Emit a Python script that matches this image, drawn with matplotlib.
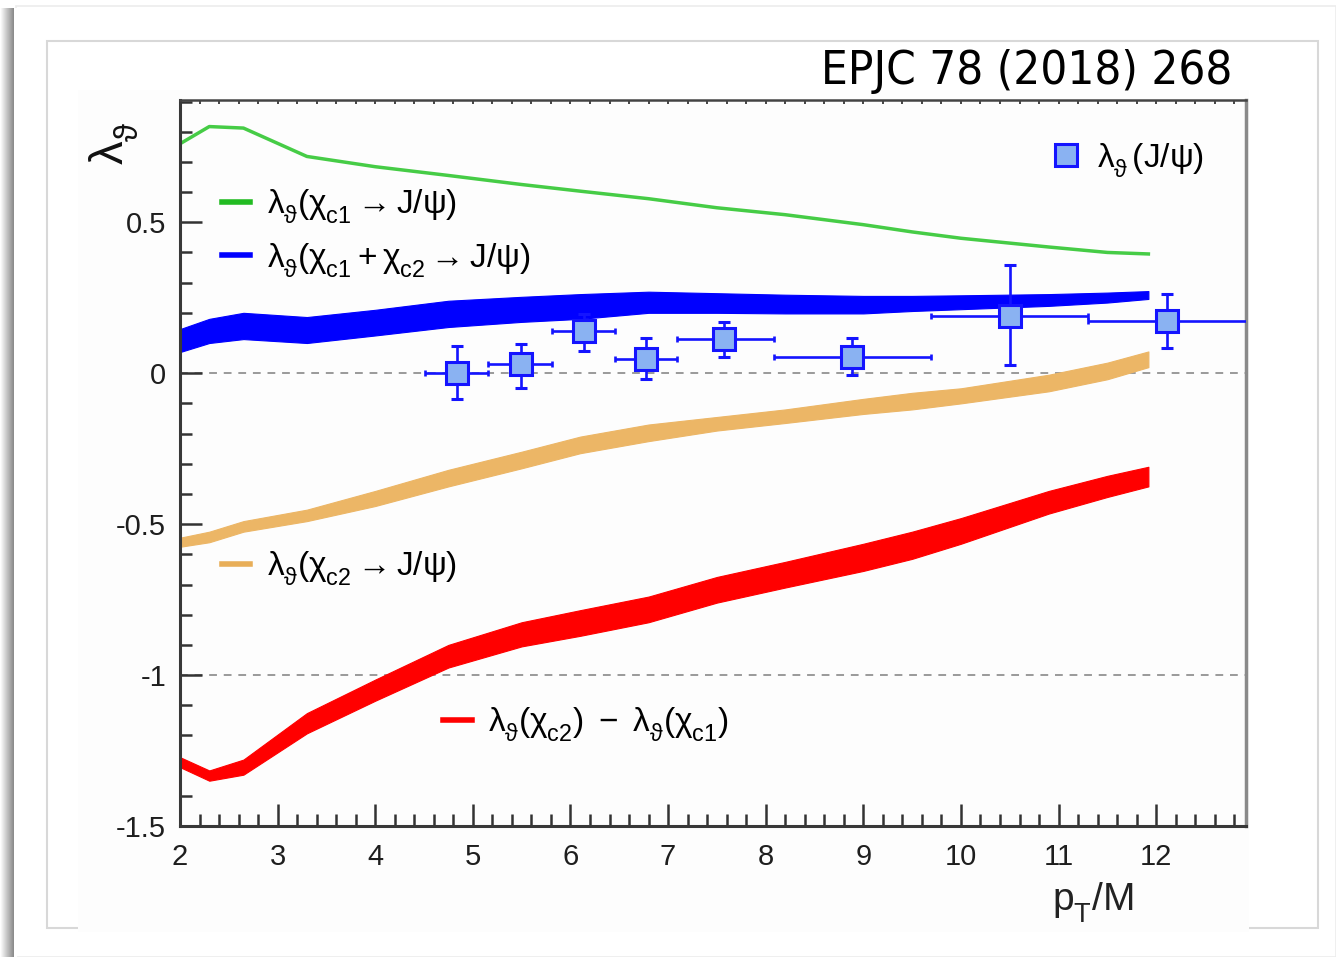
import numpy as np
import matplotlib
matplotlib.use("Agg")
import matplotlib.pyplot as plt
import matplotlib._mathtext as mathtext_impl
from matplotlib.patches import Rectangle
from matplotlib.lines import Line2D
from matplotlib.ticker import MultipleLocator, FuncFormatter

plt.rcParams['font.family'] = ['Liberation Sans', 'DejaVu Sans']
plt.rcParams['mathtext.fontset'] = 'custom'
plt.rcParams['mathtext.rm'] = 'Liberation Sans'
plt.rcParams['mathtext.it'] = 'Liberation Sans'
plt.rcParams['mathtext.bf'] = 'Liberation Sans:bold'
plt.rcParams['mathtext.sf'] = 'Liberation Sans'
plt.rcParams['mathtext.fallback'] = 'stixsans'
plt.rcParams['axes.unicode_minus'] = False
# deeper subscripts, ROOT style
mathtext_impl.FontConstantsBase.sub1 = 0.6

# theory: pT/M grid and polarization predictions
pt_theory = [2.0, 2.3, 2.65, 3.3, 4.0, 4.75, 5.5, 6.1, 6.8, 7.5, 8.2, 9.0, 9.5, 10.0, 10.9, 11.5, 11.92]
lam_chic1 = [0.76, 0.817, 0.812, 0.718, 0.684, 0.655, 0.625, 0.603, 0.578, 0.548, 0.525,
             0.492, 0.468, 0.447, 0.418, 0.40, 0.395]
lam_sum_lo = [0.07, 0.10, 0.113, 0.10, 0.125, 0.153, 0.17, 0.18, 0.20, 0.20, 0.198,
              0.198, 0.206, 0.212, 0.223, 0.234, 0.246]
lam_sum_hi = [0.146, 0.18, 0.20, 0.186, 0.21, 0.24, 0.253, 0.262, 0.27, 0.265, 0.26,
              0.256, 0.256, 0.258, 0.262, 0.267, 0.272]
lam_chic2_lo = [-0.575, -0.56, -0.525, -0.49, -0.44, -0.375, -0.315, -0.265, -0.225, -0.19,
                -0.165, -0.135, -0.12, -0.10, -0.06, -0.02, 0.02]
lam_chic2_hi = [-0.545, -0.525, -0.49, -0.452, -0.39, -0.32, -0.26, -0.21, -0.17, -0.145,
                -0.12, -0.085, -0.065, -0.05, -0.005, 0.035, 0.072]
lam_diff_lo = [-1.305, -1.35, -1.33, -1.193, -1.085, -0.975, -0.905, -0.87, -0.825, -0.76,
               -0.71, -0.655, -0.615, -0.565, -0.465, -0.41, -0.375]
lam_diff_hi = [-1.272, -1.316, -1.28, -1.126, -1.015, -0.90, -0.825, -0.785, -0.74, -0.675,
               -0.625, -0.565, -0.525, -0.48, -0.39, -0.34, -0.31]

# measured J/psi polarization
pt_data = [4.84, 5.49, 6.14, 6.77, 7.57, 8.88, 10.50, 12.11]
pt_bin_lo = [4.51, 5.16, 5.81, 6.46, 7.09, 8.08, 9.69, 11.30]
pt_bin_hi = [5.16, 5.81, 6.46, 7.09, 8.08, 9.69, 11.30, 13.00]
lam_data = [0.0, 0.03, 0.14, 0.047, 0.113, 0.055, 0.19, 0.174]
lam_err_up = [0.091, 0.066, 0.056, 0.068, 0.057, 0.06, 0.169, 0.088]
lam_err_dn = [0.086, 0.078, 0.066, 0.067, 0.058, 0.062, 0.163, 0.092]

W, H = 1336, 957
fig = plt.figure(figsize=(W / 100, H / 100), dpi=100)
fig.patch.set_facecolor('white')


def fx(x):
    return x / W


def fy(y):
    return 1 - y / H


# slide frame: left shadow, outer panel, inner panel
shade = fig.add_axes([0, 0, fx(17), fy(8)])
grad = np.linspace(1.0, 0.55, 14)
grad = np.concatenate([grad, [1.0, 1.0, 1.0]])
shade.imshow(np.tile(grad, (10, 1)), cmap='gray', vmin=0, vmax=1, aspect='auto',
             interpolation='bilinear')
shade.axis('off')
fig.add_artist(Rectangle((fx(16), 0), fx(W) - fx(16), fy(6), transform=fig.transFigure,
                         fc='white', ec='#ececec', lw=1.2, zorder=0))
fig.add_artist(Rectangle((fx(47), fy(928)), fx(1318) - fx(47), fy(41) - fy(928),
                         transform=fig.transFigure, fc='white', ec='#d8d8d8', lw=1.5, zorder=0))
fig.add_artist(Rectangle((fx(78), fy(932)), fx(1249) - fx(78), fy(90) - fy(932),
                         transform=fig.transFigure, fc='#fdfdfd', ec='none', zorder=0))

ax = fig.add_axes([fx(180), fy(826), fx(1246) - fx(180), fy(100) - fy(826)])
ax.set_facecolor('none')

ax.axhline(0, color='#9a9a9a', lw=1.4, ls=(0, (4, 3.5)), zorder=1)
ax.axhline(-1, color='#9a9a9a', lw=1.4, ls=(0, (4, 3.5)), zorder=1)

ax.plot(pt_theory, lam_chic1, color='#46cc46', lw=2.5, zorder=2)
ax.fill_between(pt_theory, lam_sum_lo, lam_sum_hi, color='#0000ff', lw=0.8, zorder=2)
ax.fill_between(pt_theory, lam_chic2_lo, lam_chic2_hi, color='#ecb666', lw=0.8, zorder=2)
ax.fill_between(pt_theory, lam_diff_lo, lam_diff_hi, color='#ff0000', lw=0.8, zorder=2)

pt = np.array(pt_data)
ax.errorbar(pt_data, lam_data, xerr=[pt - np.array(pt_bin_lo), np.array(pt_bin_hi) - pt],
            fmt='none', ecolor='#1414ff', elinewidth=1.9, capsize=2.5, capthick=1.9,
            zorder=3)
eb = ax.errorbar(pt_data, lam_data, yerr=[lam_err_dn, lam_err_up], fmt='s', ms=16,
                 mfc='#8ab2f2', mec='#1414ff', mew=2.2, ecolor='#1414ff',
                 elinewidth=1.9, capsize=4.5, capthick=1.9, zorder=4)

ax.set_xlim(2, 12.92)
ax.set_ylim(-1.5, 0.905)
ax.xaxis.set_major_locator(MultipleLocator(1))
ax.xaxis.set_minor_locator(MultipleLocator(0.2))
ax.yaxis.set_major_locator(MultipleLocator(0.5))
ax.yaxis.set_minor_locator(MultipleLocator(0.1))
ax.yaxis.set_major_formatter(FuncFormatter(lambda v, p: f"{v:g}"))
ax.tick_params(which='both', direction='in', color='#333333', width=1.8,
               labelsize=21, labelcolor='#1e1e1e', top=False, right=False)
ax.tick_params(which='major', length=16)
ax.tick_params(which='minor', length=8.5)
ax.tick_params(axis='x', pad=12)
ax.tick_params(axis='y', pad=10)
for side in ['left', 'bottom']:
    ax.spines[side].set_linewidth(2.2)
    ax.spines[side].set_color('#383838')
ax.spines['top'].set_linewidth(1.8)
ax.spines['top'].set_color('#444444')
ax.spines['right'].set_linewidth(2.5)
ax.spines['right'].set_color('#8a8a8a')

top = ax.secondary_xaxis('top')
top.xaxis.set_major_locator(MultipleLocator(1))
top.xaxis.set_minor_locator(MultipleLocator(0.2))
top.tick_params(which='both', direction='in', length=3, width=1.4, color='#444444',
                labeltop=False)
top.spines['top'].set_visible(False)

# legends
leg_kw = dict(frameon=False, fontsize=24, handlelength=0.85, handletextpad=0.5,
              borderpad=0, borderaxespad=0, labelspacing=0.45, loc='center left')
h_green = Line2D([], [], color='#22bb22', lw=4)
h_blue = Line2D([], [], color='#0000ff', lw=4)
h_orange = Line2D([], [], color='#e8ae58', lw=4)
h_red = Line2D([], [], color='#ff0000', lw=4)

leg1 = ax.legend([h_green, h_blue],
                 [r'$\lambda_\vartheta(\chi_{c1}\rightarrow J/\psi)$',
                  r'$\lambda_\vartheta(\chi_{c1}+\chi_{c2}\rightarrow J/\psi)$'],
                 bbox_to_anchor=(0.039, 0.816), **leg_kw)
ax.add_artist(leg1)
leg2 = ax.legend([h_orange], [r'$\lambda_\vartheta(\chi_{c2}\rightarrow J/\psi)$'],
                 bbox_to_anchor=(0.039, 0.354), **leg_kw)
ax.add_artist(leg2)
leg3 = ax.legend([h_red],
                 [r'$\lambda_\vartheta(\chi_{c2})\ -\ \lambda_\vartheta(\chi_{c1})$'],
                 bbox_to_anchor=(0.247, 0.139), **leg_kw)
ax.add_artist(leg3)
leg4 = ax.legend([eb[0]], [r'$\lambda_\vartheta\,(J/\psi)$'], numpoints=1,
                 bbox_to_anchor=(0.818, 0.917), **leg_kw)

fig.text(fx(113), fy(143), r'$\lambda_\vartheta$', rotation=90, fontsize=34,
         ha='center', va='center', color='#111111')
fig.text(fx(1133), fy(910), r'$p_T/M$', fontsize=28, ha='right',
         va='baseline', color='#222222')
fig.text(fx(1232), fy(84), 'EPJC 78 (2018) 268', fontsize=34, ha='right',
         va='baseline', family='DejaVu Sans', fontstretch='condensed', color='black')

fig.savefig('out.png', dpi=100)
